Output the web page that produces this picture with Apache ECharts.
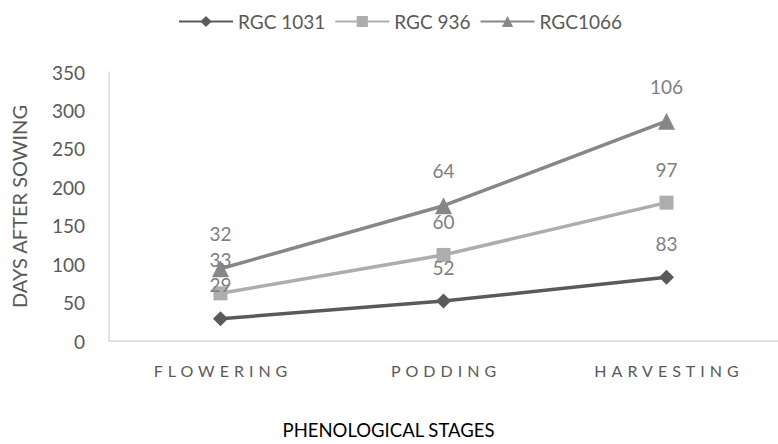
<!DOCTYPE html>
<html><head><meta charset="utf-8">
<script src="https://cdn.jsdelivr.net/npm/echarts@6/dist/echarts.min.js"></script>
<style>html,body{margin:0;padding:0;background:#fff}#c{width:778px;height:444px}</style>
</head><body><div id="c"></div>
<script>
const categories = ['FLOWERING', 'PODDING', 'HARVESTING'];
const rgc1031 = [29, 52, 83];
const rgc936 = [33, 60, 97];
const rgc1066 = [32, 64, 106];
const yTicks = { min: 0, max: 350, interval: 50 };

const FONT = 'Lato';
const chart = echarts.init(document.getElementById('c'), null, { renderer: 'svg' });

function mk(name, data, color, symbol, size) {
  return {
    name, type: 'line', stack: 'total', data,
    symbol, symbolSize: size,
    lineStyle: { color, width: 3.5 },
    itemStyle: { color },
    label: { show: true, position: 'top', distance: 17, color: '#7f7f7f', fontSize: 19, fontFamily: FONT }
  };
}

chart.setOption({
  animation: false,
  textStyle: { fontFamily: FONT },
  legend: {
    top: 7, left: 173, itemWidth: 54, itemHeight: 14, itemGap: 9,
    textStyle: { fontSize: 19, color: '#595959', fontFamily: FONT },
    data: ['RGC 1031', 'RGC 936', 'RGC1066']
  },
  grid: { left: 109, right: -13, top: 72, bottom: 100, containLabel: false },
  xAxis: {
    type: 'category', data: categories, boundaryGap: true,
    axisLine: { lineStyle: { color: '#d9d9d9', width: 1.5 } },
    axisTick: { show: false },
    axisLabel: { color: '#595959', fontSize: 16, fontFamily: FONT, margin: 21 },
    name: 'PHENOLOGICAL STAGES', nameLocation: 'middle', nameGap: 79,
    nameTextStyle: { color: '#000', fontSize: 18.5, fontFamily: FONT, padding: [0, 110, 0, 0] }
  },
  yAxis: {
    type: 'value', min: yTicks.min, max: yTicks.max, interval: yTicks.interval,
    axisLine: { show: true, lineStyle: { color: '#d9d9d9', width: 1.5 } },
    axisTick: { show: false },
    splitLine: { show: false },
    axisLabel: { color: '#595959', fontSize: 19, fontFamily: FONT, margin: 24 },
    name: 'DAYS AFTER SOWING', nameLocation: 'middle', nameGap: 80,
    nameTextStyle: { color: '#595959', fontSize: 20, fontFamily: FONT }
  },
  series: [
    mk('RGC 1031', rgc1031, '#5a5a5a', 'diamond', 15),
    mk('RGC 936', rgc936, '#adadad', 'rect', 14),
    mk('RGC1066', rgc1066, '#878787', 'triangle', 17)
  ]
});

function spaceLabels() {
  document.querySelectorAll('#c svg text').forEach(t => {
    if (categories.includes(t.textContent)) {
      t.style.letterSpacing = '5px';
      t.setAttribute('dx', '2.5');
    }
  });
}
chart.on('finished', spaceLabels);
spaceLabels();
</script></body></html>
